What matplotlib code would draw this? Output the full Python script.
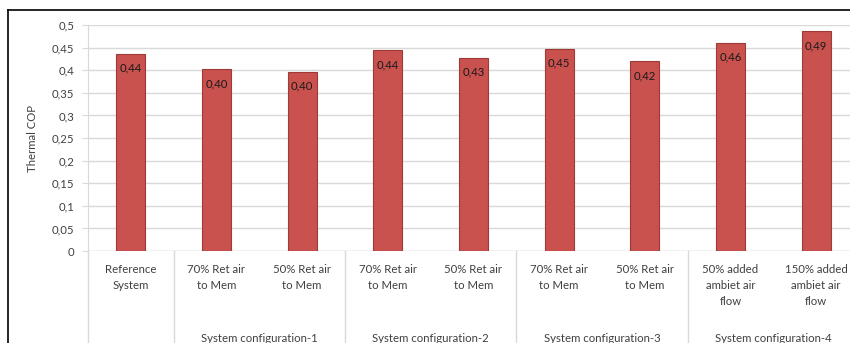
import matplotlib
matplotlib.use('Agg')
import matplotlib.pyplot as plt
from matplotlib.lines import Line2D
import numpy as np

plt.rcParams['font.family'] = ['Lato', 'DejaVu Sans']

## Data
bar_labels = ['Reference\nSystem',
              '70% Ret air\nto Mem', '50% Ret air\nto Mem',
              '70% Ret air\nto Mem', '50% Ret air\nto Mem',
              '70% Ret air\nto Mem', '50% Ret air\nto Mem',
              '50% added\nambiet air\nflow', '150% added\nambiet air\nflow']
cop = [0.437, 0.402, 0.397, 0.445, 0.428, 0.448, 0.420, 0.461, 0.487]
value_text = ['0,44', '0,40', '0,40', '0,44', '0,43', '0,45', '0,42', '0,46', '0,49']
groups = ['System configuration-1', 'System configuration-2',
          'System configuration-3', 'System configuration-4']
group_members = [[1, 2], [3, 4], [5, 6], [7, 8]]
yticks = [0, 0.05, 0.1, 0.15, 0.2, 0.25, 0.3, 0.35, 0.4, 0.45, 0.5]
ytick_text = ['0', '0,05', '0,1', '0,15', '0,2', '0,25', '0,3', '0,35', '0,4', '0,45', '0,5']

bar_col  = '#C9514E'
edge_col = '#9E3B38'
grid_col = '#D9D9D9'
txt_col  = '#404040'
fs = 8.2

fig = plt.figure(figsize=(8.5, 3.43), dpi=100)
ax = fig.add_axes([0.1035, 0.268, 0.907, 0.659])

x = np.arange(len(cop))
ax.bar(x, cop, width=0.34, color=bar_col, edgecolor=edge_col, linewidth=0.8, zorder=3)
for xi, v, t in zip(x, cop, value_text):
    ax.annotate(t, (xi, v), xytext=(0, -10.5), textcoords='offset points',
                ha='center', va='center', fontsize=fs, color='#1a1a1a', zorder=4)

ax.set_xlim(-0.5, len(cop) - 0.5)
ax.set_ylim(0, 0.5)
ax.set_yticks(yticks)
ax.set_yticklabels(ytick_text, fontsize=fs, color=txt_col)
ax.set_ylabel('Thermal COP', fontsize=fs, color=txt_col, labelpad=10)
ax.yaxis.grid(True, color=grid_col, linewidth=1.0, zorder=0)
ax.tick_params(axis='y', length=4, color=grid_col, pad=6)
ax.set_xticks([])
for s in ['top', 'right', 'bottom']:
    ax.spines[s].set_visible(False)
ax.spines['left'].set_color(grid_col)
ax.axhline(0, color=grid_col, linewidth=1.0, zorder=2)

# category axis: bar labels, group labels, separators
tr = ax.get_xaxis_transform()
y_bottom = -0.268 / 0.659
for xi, lab in zip(x, bar_labels):
    ax.text(xi, -0.055, lab, transform=tr, ha='center', va='top',
            fontsize=fs, color=txt_col, linespacing=1.6)
for g, members in zip(groups, group_members):
    ax.text(np.mean(members), -0.385, g, transform=tr, ha='center', va='center',
            fontsize=fs, color=txt_col)
for sep in [-0.5, 0.5, 2.5, 4.5, 6.5]:
    ax.plot([sep, sep], [0, y_bottom], transform=tr, color=grid_col,
            linewidth=1.0, clip_on=False)

# outer chart frame (left and top edges visible)
fig.add_artist(Line2D([0.0095, 0.0095], [0, 0.971], color='black', linewidth=1.2))
fig.add_artist(Line2D([0.0095, 1.0], [0.971, 0.971], color='black', linewidth=1.2))

fig.savefig('out.png', dpi=100)
